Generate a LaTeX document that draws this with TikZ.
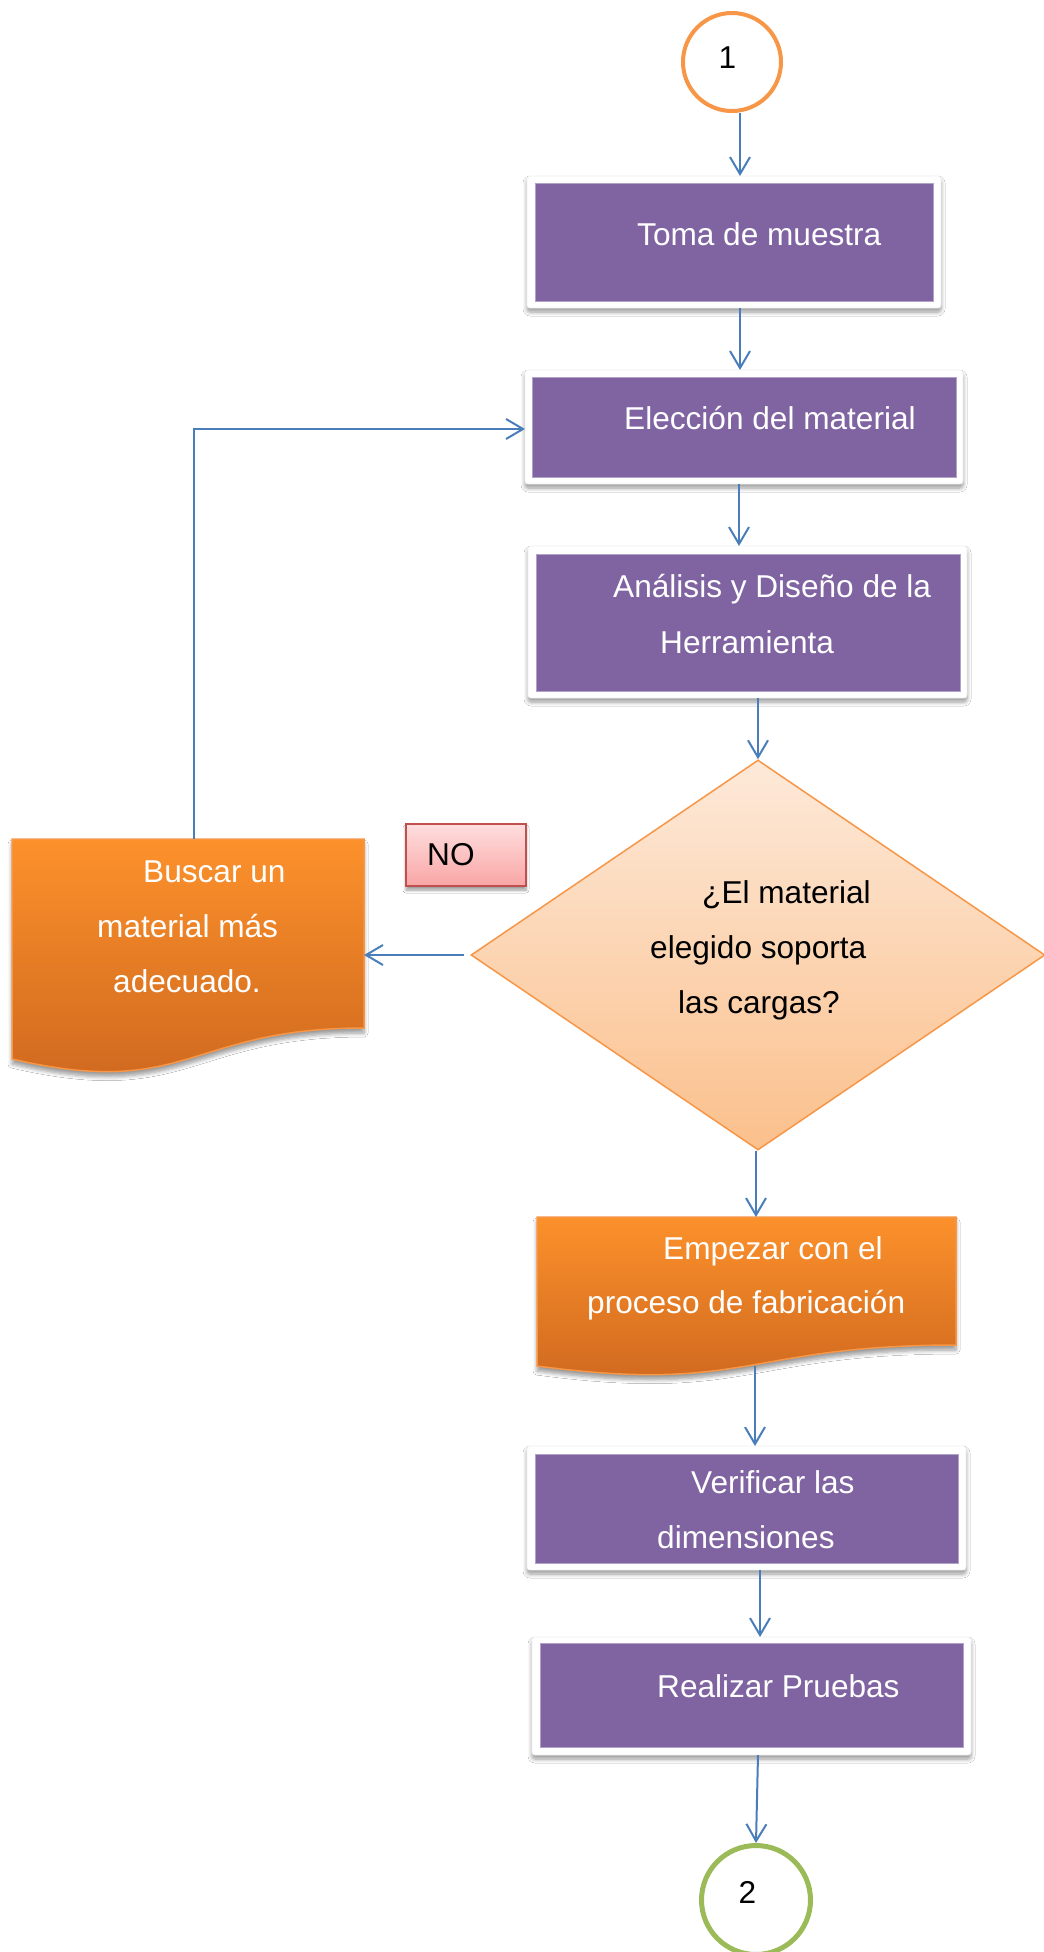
\documentclass[tikz,border=0pt]{standalone}
\usepackage{fontspec}
\setmainfont{Liberation Sans}
\usetikzlibrary{arrows.meta,shapes.geometric,shadows,shadows.blur}

\definecolor{arrblue}{HTML}{4A7EBB}
\definecolor{purp}{HTML}{8064A2}
\definecolor{purpedge}{HTML}{B3A2C7}
\definecolor{orline}{HTML}{F79646}
\definecolor{ortop}{HTML}{FC912B}
\definecolor{orbot}{HTML}{CC661E}
\definecolor{dtop}{HTML}{FDE9D9}
\definecolor{dbot}{HTML}{FBC08C}
\definecolor{notop}{HTML}{FFDEDE}
\definecolor{nobot}{HTML}{F9A5A5}
\definecolor{noline}{HTML}{C0504D}
\definecolor{grn}{HTML}{9BBB59}

\begin{document}
\begin{tikzpicture}[x=1pt,y=-1pt,
  arr/.style={draw=arrblue, line width=2pt, -{Straight Barb[length=17pt,width=20pt,line width=2pt]}},
  frame/.style={rectangle, rounded corners=3pt, fill=white, draw=black!6, line width=0.6pt, inner sep=0pt, outer sep=0pt,
    blur shadow={shadow xshift=0pt, shadow yshift=-4pt, shadow blur radius=4pt, shadow blur steps=6, shadow opacity=40}},
  pbox/.style={rectangle, fill=purp, draw=purpedge, line width=1pt, inner sep=0pt, outer sep=0pt},
  docshape/.style={top color=ortop, bottom color=orbot, draw=orline, line width=1.5pt,
    blur shadow={shadow xshift=0pt, shadow yshift=-5pt, shadow blur radius=4pt, shadow blur steps=6, shadow opacity=40}},
  anchorbox/.style={rectangle, draw=none, inner sep=0pt, outer sep=0pt},
  wtxt/.style={anchor=base west, inner sep=0pt, text=white, font=\fontsize{31.6}{38}\selectfont},
  btxt/.style={wtxt, text=black},
  ntxt/.style={anchor=base, inner sep=0pt, text=black, font=\fontsize{31.6}{38}\selectfont}
]
\useasboundingbox (0,0) rectangle (1044,1952);
\fill[white] (0,0) rectangle (1044,1952);

% connector circles
\node[circle, draw=orline, line width=4pt, fill=white, minimum size=98pt, inner sep=0pt] (c1) at (732,62) {};
\node[ntxt] (t1) at (727.5,68) {1};
\node[circle, draw=grn, line width=5pt, fill=white, minimum size=109pt, inner sep=0pt] (c2) at (756,1900) {};
\node[ntxt] (t2) at (747.5,1903) {2};

% purple process boxes
\node[frame, minimum width=414pt, minimum height=132pt] (b1) at (734,242) {};
\node[pbox, minimum width=398pt, minimum height=118pt] (b1in) at (734,242) {};
\node[wtxt] (tb1) at (637,245) {Toma de muestra};

\node[frame, minimum width=438pt, minimum height=114pt] (b2) at (744,427) {};
\node[pbox, minimum width=424pt, minimum height=100pt] (b2in) at (744,427) {};
\node[wtxt] (tb2) at (624,429) {Elección del material};

\node[frame, minimum width=439pt, minimum height=152pt] (b3) at (747.5,622) {};
\node[pbox, minimum width=424pt, minimum height=137pt] (b3in) at (748,622.5) {};
\node[wtxt] (tb3a) at (613,597) {Análisis y Diseño de la};
\node[wtxt] (tb3b) at (660,653) {Herramienta};

\node[frame, minimum width=439pt, minimum height=124pt] (b4) at (746.5,1508) {};
\node[pbox, minimum width=423pt, minimum height=109pt] (b4in) at (746.5,1508.5) {};
\node[wtxt] (tb4a) at (691,1493) {Verificar las};
\node[wtxt] (tb4b) at (657,1548) {dimensiones};

\node[frame, minimum width=439pt, minimum height=118pt] (b5) at (751.5,1696) {};
\node[pbox, minimum width=423pt, minimum height=104pt] (b5in) at (751.5,1695) {};
\node[wtxt] (tb5) at (657,1697) {Realizar Pruebas};

% decision
\node[diamond, top color=dtop, bottom color=dbot, draw=orline, line width=1.5pt,
      minimum width=574pt, minimum height=390pt, inner sep=0pt] (dia) at (758,955) {};
\node[btxt] (td1) at (702,903) {¿El material};
\node[btxt] (td2) at (650,958) {elegido soporta};
\node[btxt] (td3) at (678,1013) {las cargas?};

% NO label box
\node[rectangle, top color=notop, bottom color=nobot, draw=noline, line width=1.5pt,
      minimum width=120pt, minimum height=62pt, inner sep=0pt,
      blur shadow={shadow xshift=0pt, shadow yshift=-4pt, shadow blur radius=3pt, shadow blur steps=6, shadow opacity=40}] (no) at (466,855) {};
\node[btxt] (tno) at (427,865) {NO};

% document shapes
\node[anchorbox, minimum width=352pt, minimum height=189pt] (bus) at (188,933.5) {};
\path[docshape] (bus.north west) -- (bus.north east) -- (bus.south east)
   .. controls (188,1028) and (188,1100) .. (12,1059) -- cycle;
\node[wtxt] (tbus1) at (143,882) {Buscar un};
\node[wtxt] (tbus2) at (97,937) {material más};
\node[wtxt] (tbus3) at (113,992) {adecuado.};

\node[anchorbox, minimum width=419pt, minimum height=128pt] (emp) at (746.5,1281) {};
\path[docshape] (emp.north west) -- (emp.north east) -- (emp.south east)
   .. controls (746.5,1345) and (746.5,1394) .. (537,1366) -- cycle;
\node[wtxt] (temp1) at (663,1259) {Empezar con el};
\node[wtxt] (temp2) at (587,1313) {proceso de fabricación};
\coordinate (empbot) at (755,1366);

% connectors
\draw[arr] ([xshift=8pt]c1.south) -- ([xshift=6pt]b1.north);
\draw[arr] ([xshift=6pt]b1.south) -- ([xshift=-4pt]b2.north);
\draw[arr] ([xshift=-5pt]b2.south) -- ([xshift=-8.5pt]b3.north);
\draw[arr] ([xshift=10.5pt]b3.south) -- (dia.north);
\draw[arr] ([xshift=-6pt]dia.west) -- (dia.west -| bus.east);
\draw[arr] ([xshift=6pt]bus.north) |- ([yshift=-2pt]b2.west);
\draw[arr] ([xshift=-2pt]dia.south) -- ([xshift=-2pt]dia.south |- emp.north);
\draw[arr] (empbot) -- (empbot |- b4.north);
\draw[arr] ([xshift=13.5pt]b4.south) -- ([xshift=8.5pt]b5.north);
\draw[arr] ([xshift=6.5pt]b5.south) -- (c2.north);
\end{tikzpicture}
\end{document}
